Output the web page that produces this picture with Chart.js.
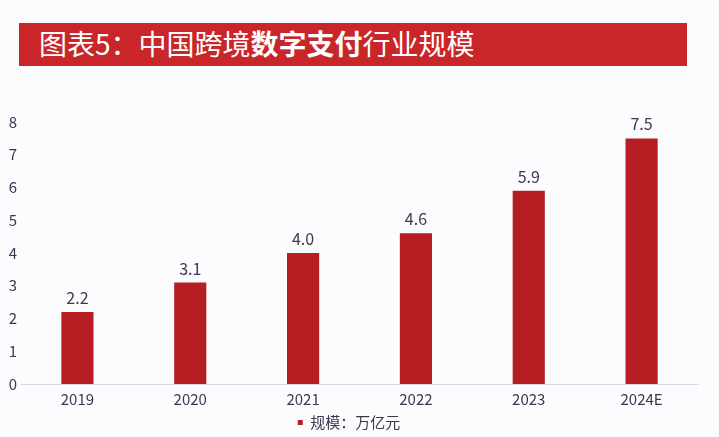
<!DOCTYPE html>
<html>
<head>
<meta charset="utf-8">
<script src="https://cdn.jsdelivr.net/npm/chart.js@4"></script>
<style>
  html, body { margin: 0; padding: 0; background: #fbfcfe; }
  #wrap { position: relative; width: 719px; height: 437px; overflow: hidden; }
  #title {
    position: absolute; left: 19px; top: 23px; width: 668px; height: 43px;
    background: #c9262a;
    color: #fff; font-family: "Noto Sans CJK SC", sans-serif; font-size: 28px;
    line-height: 41px; padding-left: 20px; box-sizing: border-box; white-space: nowrap;
  }
  #title b { font-weight: 700; }
  #chart { position: absolute; left: 0; top: 0; }
</style>
</head>
<body>
<div id="wrap">
  <canvas id="chart" width="719" height="437"></canvas>
  <div id="title">图表5：中国跨境<b>数字支付</b>行业规模</div>
</div>
<script>
const years = ['2019', '2020', '2021', '2022', '2023', '2024E'];
const scale = [2.2, 3.1, 4.0, 4.6, 5.9, 7.5];
const seriesName = '规模：万亿元';

const font = 'Noto Sans CJK SC';
const textColor = '#3e3651';

// numbers above each bar
const valueLabels = {
  id: 'valueLabels',
  afterDatasetsDraw(chart) {
    const ctx = chart.ctx;
    const meta = chart.getDatasetMeta(0);
    ctx.save();
    ctx.font = '16px "' + font + '"';
    ctx.fillStyle = textColor;
    ctx.textAlign = 'center';
    ctx.textBaseline = 'middle';
    meta.data.forEach((bar, i) => {
      ctx.fillText(scale[i].toFixed(1), bar.x, bar.y - 14);
    });
    ctx.restore();
  }
};

function createBarChart() {
  const ctx = document.getElementById('chart');
  new Chart(ctx, {
    type: 'bar',
    data: {
      labels: years,
      datasets: [{
        label: seriesName,
        data: scale,
        backgroundColor: '#b51f23',
        categoryPercentage: 1,
        barPercentage: 0.285
      }]
    },
    options: {
      responsive: false,
      animation: false,
      layout: { padding: { top: 122, right: 21, bottom: -3, left: 0 } },
      scales: {
        x: {
          grid: { display: false, drawTicks: false },
          border: { color: '#d9d9e0' },
          ticks: { color: textColor, font: { family: font, size: 15, lineHeight: 1 }, padding: 8 }
        },
        y: {
          min: 0,
          max: 8,
          grid: { display: false, drawTicks: false },
          border: { display: false },
          ticks: { stepSize: 1, color: textColor, font: { family: font, size: 15 }, padding: 4 },
          afterFit(axis) { axis.width = 21; }
        }
      },
      plugins: {
        legend: {
          position: 'bottom',
          labels: {
            usePointStyle: true,
            pointStyle: 'rect',
            boxWidth: 5,
            boxHeight: 5,
            padding: 0,
            color: textColor,
            font: { family: font, size: 15 }
          }
        },
        tooltip: { enabled: false }
      }
    },
    plugins: [valueLabels]
  });
}

createBarChart();
</script>
</body>
</html>
